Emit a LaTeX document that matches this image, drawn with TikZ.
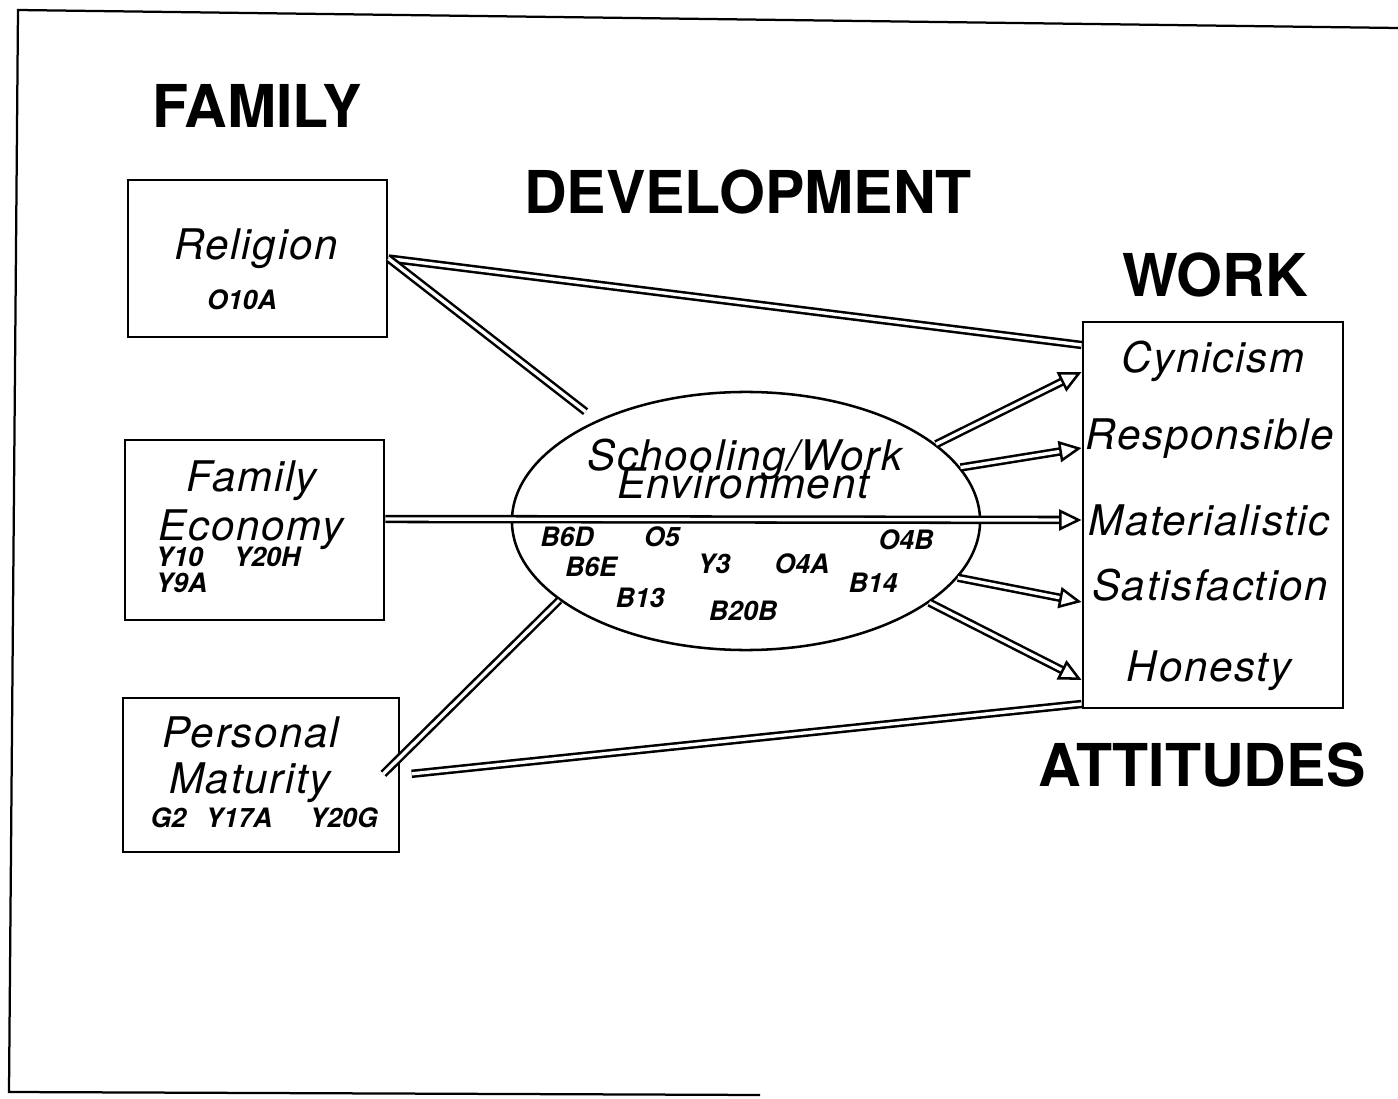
\documentclass[tikz,border=0pt]{standalone}
\usepackage{fontspec}
\setmainfont{TeX Gyre Heros}
\newfontfamily\lblfont[LetterSpace=4]{TeX Gyre Heros}
\usetikzlibrary{positioning,calc,shapes.geometric,arrows.meta}
\tikzset{
    varbox/.style={rectangle, draw=black, line width=1pt, inner sep=0pt},
    headword/.style={font=\bfseries\fontsize{21}{23}\selectfont, inner sep=0pt, anchor=base},
    lbl/.style={font=\lblfont\itshape\fontsize{15}{16}\selectfont, inner sep=0pt, anchor=base},
    code/.style={font=\bfseries\itshape\fontsize{9.5}{10}\selectfont, inner sep=0pt, anchor=base},
    link/.style={draw=black, line width=0.9pt, double=white, double distance=1.2pt},
    arr/.style={link, -{Triangle[open, length=8pt, width=7.5pt]}}
}

\begin{document}
\begin{tikzpicture}[x=0.0125cm, y=-0.0125cm]
    \useasboundingbox (0,0) rectangle (1398,1099);
    \draw[line width=0.8pt] (1398,28) -- (18,10) -- (9,1092) -- (760,1095);

    \node[headword] (family) at (257,128) {FAMILY};
    \node[headword] (devel) at (748,214) {DEVELOPMENT};
    \node[headword] (workhd) at (1215,297) {WORK};
    \node[headword] (attit) at (1202,786) {ATTITUDES};

    \node[varbox, minimum width=3.2375cm, minimum height=1.9625cm] (rel) at (257.5,258.5) {};
    \node[lbl] (rellbl) at (256,260) {Religion};
    \node[code] (relcode) at (242,310) {O10A};

    \node[varbox, minimum width=3.2375cm, minimum height=2.25cm] (fam) at (254.5,530) {};
    \node[lbl] (famlbl1) at (252,492) {Family};
    \node[lbl] (famlbl2) at (251,540) {Economy};
    \node[code, anchor=base west] (y10) at (155,567) {Y10};
    \node[code, anchor=base west] (y20h) at (233,567) {Y20H};
    \node[code, anchor=base west] (y9a) at (155,592) {Y9A};

    \node[varbox, minimum width=3.45cm, minimum height=1.925cm] (pers) at (261,775) {};
    \node[lbl] (perslbl1) at (251,747) {Personal};
    \node[lbl] (perslbl2) at (250,793) {Maturity};
    \node[code, anchor=base west] (g2) at (150,827) {G2};
    \node[code, anchor=base west] (y17a) at (205,827) {Y17A};
    \node[code, anchor=base west] (y20g) at (309,827) {Y20G};

    \node[ellipse, draw=black, line width=0.9pt, minimum width=5.85cm, minimum height=3.225cm, inner sep=0pt] (env) at (746,521) {};
    \node[lbl] (envlbl1) at (745,471) {Schooling/Work};
    \node[lbl] (envlbl2) at (743,499) {Environment};
    \node[code] (b6d) at (567,547) {B6D};
    \node[code] (o5) at (662,547) {O5};
    \node[code] (o4b) at (906,550) {O4B};
    \node[code] (b6e) at (591,577) {B6E};
    \node[code] (y3) at (714,573) {Y3};
    \node[code] (o4a) at (802,573) {O4A};
    \node[code] (b14) at (873,593) {B14};
    \node[code] (b13) at (640,607) {B13};
    \node[code] (b20b) at (743,620) {B20B};

    \node[varbox, minimum width=3.25cm, minimum height=4.825cm] (work) at (1213,515) {};
    \node[lbl] (cyn) at (1213,373) {Cynicism};
    \node[lbl] (resp) at (1210,450) {Responsible};
    \node[lbl] (mat) at (1209,535) {Materialistic};
    \node[lbl] (sat) at (1210,600) {Satisfaction};
    \node[lbl] (hon) at (1209,682) {Honesty};

    \draw[link] (rel.east) -- (work.west |- 0,345);
    \draw[link, shorten >=5pt] (rel.east) -- (env.146);
    \draw[arr] (fam.east |- 0,519) -- (work.west |- 0,520);
    \draw[link, shorten <=-0.3cm] (pers.east |- 0,757) -- (env.203);
    \draw[link, shorten <=4pt] (pers.east) -- (work.west |- 0,704);

    \draw[arr] (env.22) -- (work.west |- 0,372);
    \draw[arr] (env.14) -- (work.west |- 0,448);
    \draw[arr] (env.-15) -- (work.west |- 0,602);
    \draw[arr] (env.-24) -- (work.west |- 0,680);
\end{tikzpicture}
\end{document}
